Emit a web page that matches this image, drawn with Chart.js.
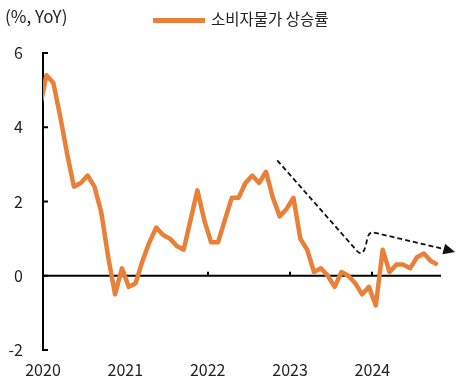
<!DOCTYPE html>
<html>
<head>
<meta charset="utf-8">
<script src="https://cdn.jsdelivr.net/npm/chart.js@4"></script>
<style>
  html, body { margin: 0; padding: 0; background: #fff; }
  #wrap { width: 461px; height: 388px; position: relative; }
</style>
</head>
<body>
<div id="wrap"><canvas id="cpiChart"></canvas></div>
<script>
// --- Data ---
// monthly CPI YoY (%), Dec 2019 .. Oct 2024 (x = month index, Jan 2020 = 0)
const startIndex = -1;
const cpiValues = [
    4.5,
    5.4, 5.2, 4.3, 3.3, 2.4, 2.5, 2.7, 2.4, 1.7, 0.5, -0.5, 0.2,
    -0.3, -0.2, 0.4, 0.9, 1.3, 1.1, 1.0, 0.8, 0.7, 1.5, 2.3, 1.5,
    0.9, 0.9, 1.5, 2.1, 2.1, 2.5, 2.7, 2.5, 2.8, 2.1, 1.6, 1.8,
    2.1, 1.0, 0.7, 0.1, 0.2, 0.0, -0.3, 0.1, 0.0, -0.2, -0.5, -0.3,
    -0.8, 0.7, 0.1, 0.3, 0.3, 0.2, 0.5, 0.6, 0.4, 0.3
];
const yearLabels = ['2020', '2021', '2022', '2023', '2024'];
const yearTicks = [-0.5, 11.5, 23.5, 35.5, 47.5];
const yTicks = [-2, 0, 2, 4, 6];

// dashed trend annotation, in data units [month index, %]
const trendPath = [
    [33.64, 3.11], [45.3, 0.66], [46.1, 0.50], [46.55, 0.82],
    [46.75, 1.0], [47.0, 1.18], [47.6, 1.17], [57.9, 0.72]
];
const trendTip = [59.55, 0.64];

const ORANGE = '#EA7F37';
const FONT = '"Noto Sans CJK KR", "Noto Sans", sans-serif';

// --- Plugins ---
const axisDecor = {
    id: 'axisDecor',
    beforeDatasetsDraw(chart) {
        const { ctx, chartArea, scales: { x, y } } = chart;
        const y0 = y.getPixelForValue(0);
        ctx.save();
        ctx.strokeStyle = '#000';
        ctx.lineWidth = 2;
        // zero line
        ctx.beginPath();
        ctx.moveTo(chartArea.left, y0);
        ctx.lineTo(chartArea.right, y0);
        ctx.stroke();
        // year ticks on the zero line
        yearTicks.slice(1).forEach(v => {
            const px = Math.round(x.getPixelForValue(v));
            ctx.beginPath();
            ctx.moveTo(px, y0);
            ctx.lineTo(px, y0 - 4);
            ctx.stroke();
        });
        // inner ticks on the y axis
        yTicks.forEach(v => {
            const py = y.getPixelForValue(v);
            ctx.beginPath();
            ctx.moveTo(chartArea.left, py);
            ctx.lineTo(chartArea.left + 5, py);
            ctx.stroke();
        });
        ctx.restore();
    }
};

const overlay = {
    id: 'overlay',
    afterDatasetsDraw(chart) {
        const { ctx, scales: { x, y } } = chart;
        const pts = trendPath.map(p => [x.getPixelForValue(p[0]), y.getPixelForValue(p[1])]);
        ctx.save();
        ctx.strokeStyle = '#111';
        ctx.lineWidth = 1.8;
        ctx.setLineDash([5, 3]);
        ctx.beginPath();
        ctx.moveTo(pts[0][0], pts[0][1]);
        ctx.lineTo(pts[1][0], pts[1][1]);
        ctx.quadraticCurveTo(pts[2][0], pts[2][1], pts[3][0], pts[3][1]);
        ctx.lineTo(pts[4][0], pts[4][1]);
        ctx.quadraticCurveTo(pts[5][0], pts[5][1], pts[6][0], pts[6][1]);
        ctx.lineTo(pts[7][0], pts[7][1]);
        ctx.stroke();
        ctx.setLineDash([]);

        // arrow head
        const tx = x.getPixelForValue(trendTip[0]);
        const ty = y.getPixelForValue(trendTip[1]);
        const bx = pts[7][0], by = pts[7][1];
        const len = Math.hypot(tx - bx, ty - by);
        const ux = (tx - bx) / len, uy = (ty - by) / len;
        const hw = 5.5;
        ctx.fillStyle = '#111';
        ctx.beginPath();
        ctx.moveTo(tx, ty);
        ctx.lineTo(bx - uy * hw, by + ux * hw);
        ctx.lineTo(bx + uy * hw, by - ux * hw);
        ctx.closePath();
        ctx.fill();

        // unit label + legend
        ctx.fillStyle = '#222';
        ctx.textBaseline = 'middle';
        ctx.textAlign = 'left';
        ctx.font = '17px ' + FONT;
        ctx.fillText('(%, YoY)', 5, 17);
        ctx.fillStyle = ORANGE;
        ctx.fillRect(153, 18, 52, 5);
        ctx.fillStyle = '#222';
        ctx.font = '15.5px ' + FONT;
        ctx.fillText('소비자물가 상승률', 211, 19);
        ctx.restore();
    }
};

// --- Chart ---
window.onload = () => {
    const ctx = document.getElementById('cpiChart').getContext('2d');
    new Chart(ctx, {
        type: 'line',
        data: {
            datasets: [{
                label: '소비자물가 상승률',
                data: cpiValues.map((v, i) => ({ x: startIndex + i, y: v })),
                borderColor: ORANGE,
                borderWidth: 4.5,
                pointRadius: 0,
                tension: 0,
                borderJoinStyle: 'round',
                clip: { left: 0, top: 8, right: 8, bottom: 8 }
            }]
        },
        options: {
            responsive: true,
            maintainAspectRatio: false,
            animation: false,
            events: [],
            layout: { padding: { top: 53, right: 20, left: 0, bottom: 0 } },
            plugins: {
                legend: { display: false },
                tooltip: { enabled: false }
            },
            scales: {
                x: {
                    type: 'linear',
                    min: -0.5,
                    max: 57.5,
                    afterBuildTicks: s => { s.ticks = yearTicks.map(v => ({ value: v })); },
                    afterFit: s => { s.height = 38; },
                    grid: { display: false, drawTicks: false },
                    border: { display: false },
                    ticks: {
                        autoSkip: false,
                        maxRotation: 0,
                        padding: 10,
                        color: '#222',
                        font: { family: FONT, size: 16 },
                        callback: v => yearLabels[yearTicks.indexOf(v)]
                    }
                },
                y: {
                    min: -2,
                    max: 6,
                    afterBuildTicks: s => { s.ticks = yTicks.map(v => ({ value: v })); },
                    afterFit: s => { s.width = 43; },
                    grid: { display: false, drawTicks: false },
                    border: { display: true, color: '#000', width: 2 },
                    ticks: {
                        padding: 20,
                        color: '#222',
                        font: { family: FONT, size: 16 }
                    }
                }
            }
        },
        plugins: [axisDecor, overlay]
    });
};
</script>
</body>
</html>
